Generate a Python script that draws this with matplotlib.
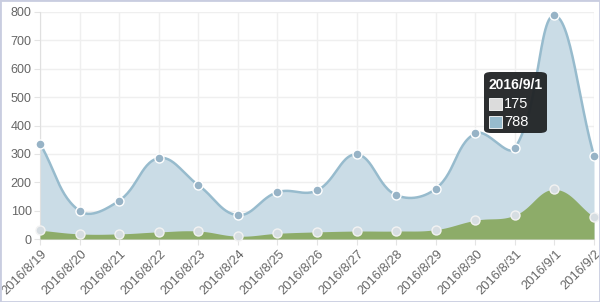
import matplotlib.pyplot as plt
import matplotlib.transforms as mtransforms
import numpy as np
from matplotlib.patches import FancyBboxPatch, Rectangle

plt.rcParams['font.family'] = ['Liberation Sans', 'DejaVu Sans']

dates = ['2016/8/19', '2016/8/20', '2016/8/21', '2016/8/22', '2016/8/23',
         '2016/8/24', '2016/8/25', '2016/8/26', '2016/8/27', '2016/8/28',
         '2016/8/29', '2016/8/30', '2016/8/31', '2016/9/1', '2016/9/2']
total = [336, 99, 135, 285, 190, 84, 165, 171, 298, 155, 177, 372, 320, 788, 293]
green = [31, 18, 18, 25, 28, 10, 20, 25, 28, 28, 33, 66, 84, 175, 77]
yticks = [0, 100, 200, 300, 400, 500, 600, 700, 800]

blue_line = '#97bbcd'
blue_fill = '#cadce6'
green_fill = '#8dac69'


def bezier_curve(ax, xs, ys, tension=0.4, n=30):
    # Chart.js style spline, control points worked out in pixel space
    pts = ax.transData.transform(np.column_stack([xs, ys]))
    cps = []
    for i in range(len(pts)):
        prev = pts[max(i - 1, 0)]
        cur = pts[i]
        nxt = pts[min(i + 1, len(pts) - 1)]
        d01 = np.hypot(*(cur - prev))
        d12 = np.hypot(*(nxt - cur))
        tot = d01 + d12 if d01 + d12 > 0 else 1
        fa = tension * d01 / tot
        fb = tension * d12 / tot
        cps.append((cur - fa * (nxt - prev), cur + fb * (nxt - prev)))
    out = [pts[0]]
    t = np.linspace(0, 1, n)[1:, None]
    for i in range(len(pts) - 1):
        p0 = pts[i]
        p1 = cps[i][1]
        p2 = cps[i + 1][0]
        p3 = pts[i + 1]
        seg = ((1 - t) ** 3) * p0 + 3 * ((1 - t) ** 2) * t * p1 \
            + 3 * (1 - t) * t ** 2 * p2 + t ** 3 * p3
        out.extend(seg)
    out = ax.transData.inverted().transform(np.array(out))
    return out[:, 0], out[:, 1]


fig = plt.figure(figsize=(6.0, 3.02), dpi=100)
ax = fig.add_axes([40 / 600, 63 / 302, 554 / 600, 227 / 302])
x = np.arange(len(dates))
ax.set_xlim(0, len(dates) - 1)
ax.set_ylim(0, 800)

bx, by = bezier_curve(ax, x, total)
gx, gy = bezier_curve(ax, x, green)
by = np.clip(by, 0, None)
gy = np.clip(gy, 0, None)

ax.fill_between(bx, 0, by, color=blue_fill, lw=0, zorder=2)
ax.plot(bx, by, color=blue_line, lw=1.8, zorder=3)
ax.fill_between(gx, 0, gy, color=green_fill, lw=0, zorder=4)
ax.scatter(x, total, s=42, color='#97b3c6', edgecolors='white', linewidths=1,
           zorder=5, clip_on=False)
ax.scatter(x, green, s=42, color='#d6dde2', edgecolors='#f2f2f2', linewidths=1,
           zorder=5, clip_on=False)

# x labels drawn by hand so they can sit just below the ticks
ax.set_xticks(x)
ax.set_xticklabels([])
shift = mtransforms.ScaledTranslation(1 / 100, -9 / 100, fig.dpi_scale_trans)
for xi, d in zip(x, dates):
    ax.text(xi, 0, d, transform=ax.get_xaxis_transform() + shift,
            rotation=45, ha='right', va='top', rotation_mode='anchor',
            fontsize=9.3, color='#666666', clip_on=False)

ax.set_yticks(yticks)
ax.set_yticklabels([str(v) for v in yticks], fontsize=9, color='#666666')
ax.tick_params(axis='both', length=4, color='#e4e4e4', pad=2)
ax.grid(True, color='#efefef', lw=1, zorder=0)
ax.set_axisbelow(True)
for side in ['top', 'right']:
    ax.spines[side].set_visible(False)
ax.spines['left'].set_color('#e0e0e0')
ax.spines['bottom'].set_color('#e0e0e0')

# tooltip for 2016/9/1
tip = FancyBboxPatch((484 / 600, (302 - 133) / 302), 63 / 600, 61 / 302,
                     boxstyle='round,pad=0,rounding_size=0.012',
                     transform=fig.transFigure, facecolor='#202325',
                     edgecolor='none', alpha=0.95, zorder=10)
fig.add_artist(tip)
fig.text(489 / 600, (302 - 85) / 302, dates[13], color='white',
         fontsize=10, fontweight='bold', va='center', zorder=11)
for yy, col, val in [(104, '#dcdcdc', green[13]), (122, blue_line, total[13])]:
    fig.add_artist(Rectangle((489 / 600, (302 - yy - 6) / 302), 13 / 600, 12 / 302,
                             transform=fig.transFigure, facecolor=col,
                             edgecolor='white', lw=0.6, zorder=11))
    fig.text(504 / 600, (302 - yy) / 302, str(val), color='white',
             fontsize=10.5, va='center', zorder=11)

fig.add_artist(Rectangle((0, 0), 1, 1, transform=fig.transFigure,
                         facecolor='none', edgecolor='#c9cde0', lw=2))

fig.savefig('out.png', dpi=100)
